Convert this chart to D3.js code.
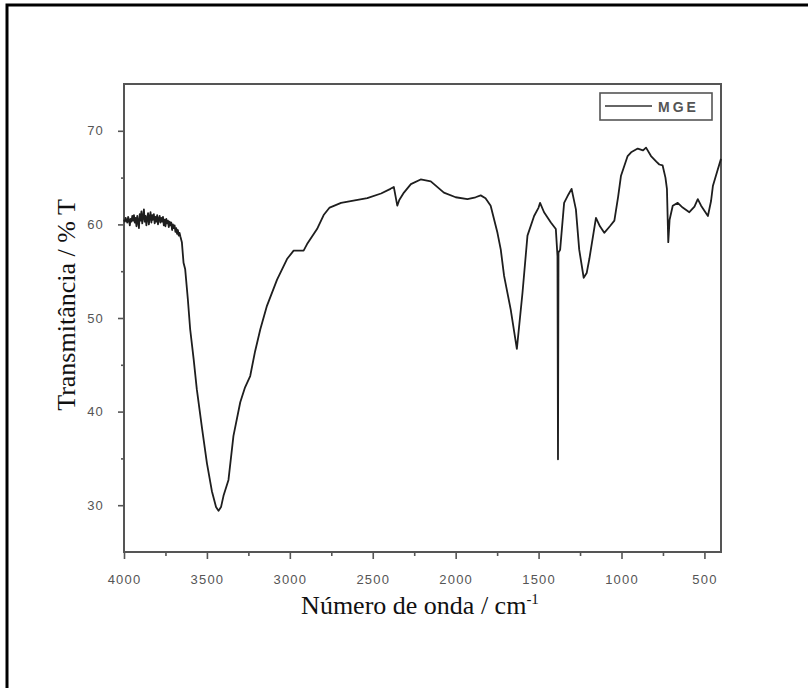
<!DOCTYPE html>
<html>
<head>
<meta charset="utf-8">
<script src="https://cdn.jsdelivr.net/npm/d3@7/dist/d3.min.js"></script>
<style>
  html, body { margin: 0; padding: 0; background: #fff; }
  svg { display: block; }
</style>
</head>
<body>
<svg id="chart" width="808" height="688"></svg>
<script>
// ---- data ----
const seriesName = "MGE";
const wavenumber = [
  4000,3995,3990,3985,3980,3975,3970,3965,3960,3955,3950,3945,3940,3935,3930,3925,3920,3915,3910,3905,
  3900,3895,3890,3885,3880,3875,3870,3865,3860,3855,3850,3845,3840,3835,3830,3825,3820,3815,3810,3805,
  3800,3795,3790,3785,3780,3775,3770,3765,3760,3755,3750,3745,3740,3735,3730,3725,3720,3715,3710,3705,
  3700,3695,3690,3685,3680,3675,3670,3665,3660,
  3651,3641,3631,3615,3601,
  3580,3561,3530,3500,3470,3445,3430,3415,3400,3370,3340,3299,3270,3239,3210,3178,3138,3077,3017,2977,
  2917,2896,2836,2796,2760,2691,2600,2533,2450,2393,2373,2352,2340,2312,2270,2211,2150,2071,2000,1929,
  1880,1849,1820,1789,1748,1728,1708,1668,1631,1597,1567,1527,1500,1491,1467,1426,1396,1386,1383,1380,
  1370,1346,1320,1301,1275,1255,1228,1210,1194,1154,1130,1104,1070,1043,1020,1003,963,942,902,870,
  852,822,790,772,752,735,726,718,710,691,661,631,591,560,540,520,479,460,449,419,400
];
const transmittance = [
  60.5,60.3,60.7,60.4,60.2,60.8,60.5,59.9,60.6,60.3,60.9,60.4,61.0,60.2,60.7,59.8,60.9,60.3,59.6,61.1,
  60.4,61.4,60.1,60.8,61.6,60.3,60.9,59.9,60.7,61.2,60.0,60.8,61.3,60.2,61.0,60.5,61.1,60.1,60.8,60.3,
  61.0,60.0,60.6,60.9,60.2,60.7,60.3,60.8,59.9,60.5,59.8,60.6,60.1,60.4,59.7,60.3,59.9,60.2,59.4,60.0,
  59.6,59.9,59.2,59.6,59.0,59.4,58.8,59.1,58.7,
  58.1,55.9,55.2,52.0,48.8,
  45.6,42.4,38.3,34.5,31.5,29.8,29.4,29.8,31.0,32.7,37.4,41.0,42.6,43.8,46.4,48.8,51.3,54.1,56.3,57.2,
  57.2,57.9,59.5,61.0,61.8,62.3,62.6,62.8,63.3,63.8,64.0,62.0,62.6,63.4,64.3,64.8,64.6,63.4,62.9,62.7,
  62.9,63.1,62.8,62.0,59.1,57.3,54.5,50.9,46.7,52.7,58.8,60.9,61.8,62.3,61.3,60.2,59.5,56.6,34.9,57.0,
  57.3,62.3,63.2,63.8,61.6,57.3,54.3,54.8,56.3,60.7,59.8,59.1,59.8,60.4,63.0,65.2,67.3,67.7,68.1,67.9,
  68.2,67.3,66.7,66.4,66.3,65.0,63.8,58.1,60.5,62.0,62.3,61.8,61.3,61.9,62.7,62.0,60.9,62.5,64.1,65.9,67.0
];
const xMajorTicks = [4000,3500,3000,2500,2000,1500,1000,500];
const xMinorTicks = [3750,3250,2750,2250,1750,1250,750];
const yMajorTicks = [30,40,50,60,70];
const yMinorTicks = [35,45,55,65];
const xDomain = [4000, 400];
const yDomain = [25, 75];
const xTitle = "Número de onda / cm";
const xTitleSup = "-1";
const yTitle = "Transmitância / % T";

// ---- layout ----
const svg = d3.select("#chart");
const plot = { left: 124, right: 721, top: 84, bottom: 552 };

// outer frame
svg.append("rect")
  .attr("x", 7).attr("y", 5).attr("width", 900).attr("height", 800)
  .attr("fill", "none").attr("stroke", "#000").attr("stroke-width", 3);

const x = d3.scaleLinear().domain(xDomain).range([plot.left, plot.right]);
const y = d3.scaleLinear().domain(yDomain).range([plot.bottom, plot.top]);

const axisColor = "#555";
const labelColor = "#555";

function styleAxis(g) {
  g.select(".domain").remove();
  g.selectAll(".tick line").attr("stroke", axisColor).attr("stroke-width", 1.6);
  g.selectAll(".tick text").attr("fill", labelColor)
    .style("font-family", "'Liberation Sans', Arial, sans-serif").style("font-size", "13px")
    .style("letter-spacing", "1.2px");
}

// x axis (bottom)
svg.append("g").attr("transform", `translate(0,${plot.bottom})`)
  .call(d3.axisBottom(x).tickValues(xMajorTicks).tickSize(7).tickPadding(16).tickFormat(d3.format("d")))
  .call(styleAxis);
svg.append("g").attr("transform", `translate(0,${plot.bottom})`)
  .call(d3.axisBottom(x).tickValues(xMinorTicks).tickSize(4).tickFormat(""))
  .call(styleAxis);

// y axis (left)
svg.append("g").attr("transform", `translate(${plot.left},0)`)
  .call(d3.axisLeft(y).tickValues(yMajorTicks).tickSize(6).tickPadding(14).tickFormat(d3.format("d")))
  .call(styleAxis);
svg.append("g").attr("transform", `translate(${plot.left},0)`)
  .call(d3.axisLeft(y).tickValues(yMinorTicks).tickSize(3).tickFormat(""))
  .call(styleAxis);

// plot box
svg.append("rect")
  .attr("x", plot.left).attr("y", plot.top)
  .attr("width", plot.right - plot.left).attr("height", plot.bottom - plot.top)
  .attr("fill", "none").attr("stroke", axisColor).attr("stroke-width", 2);

// spectrum line
const pts = wavenumber.map((w, i) => [w, transmittance[i]]);
const line = d3.line().x(d => x(d[0])).y(d => y(d[1]));
svg.append("path").datum(pts)
  .attr("d", line)
  .attr("fill", "none").attr("stroke", "#1e1e1e").attr("stroke-width", 1.8)
  .attr("stroke-linejoin", "round");

// legend
const lg = svg.append("g");
lg.append("rect").attr("x", 600).attr("y", 93).attr("width", 112).attr("height", 27)
  .attr("fill", "#fff").attr("stroke", axisColor).attr("stroke-width", 1.6);
lg.append("line").attr("x1", 605).attr("x2", 652).attr("y1", 106).attr("y2", 106)
  .attr("stroke", "#333").attr("stroke-width", 1.6);
lg.append("text").attr("x", 658).attr("y", 112).text(seriesName)
  .attr("fill", "#555").style("font-family", "'Liberation Sans', Arial, sans-serif")
  .style("font-size", "14px").style("font-weight", "bold").style("letter-spacing", "3px");

// axis titles
const xt = svg.append("text").attr("x", 420).attr("y", 614).attr("text-anchor", "middle")
  .attr("fill", "#111").style("font-family", "'Liberation Serif', 'Times New Roman', serif")
  .style("font-size", "26px");
xt.append("tspan").text(xTitle);
xt.append("tspan").attr("dy", -10).style("font-size", "15px").text(xTitleSup);

svg.append("text").attr("transform", "translate(75,305) rotate(-90)")
  .attr("text-anchor", "middle").attr("fill", "#111")
  .style("font-family", "'Liberation Serif', 'Times New Roman', serif")
  .style("font-size", "26px").text(yTitle);
</script>
</body>
</html>
